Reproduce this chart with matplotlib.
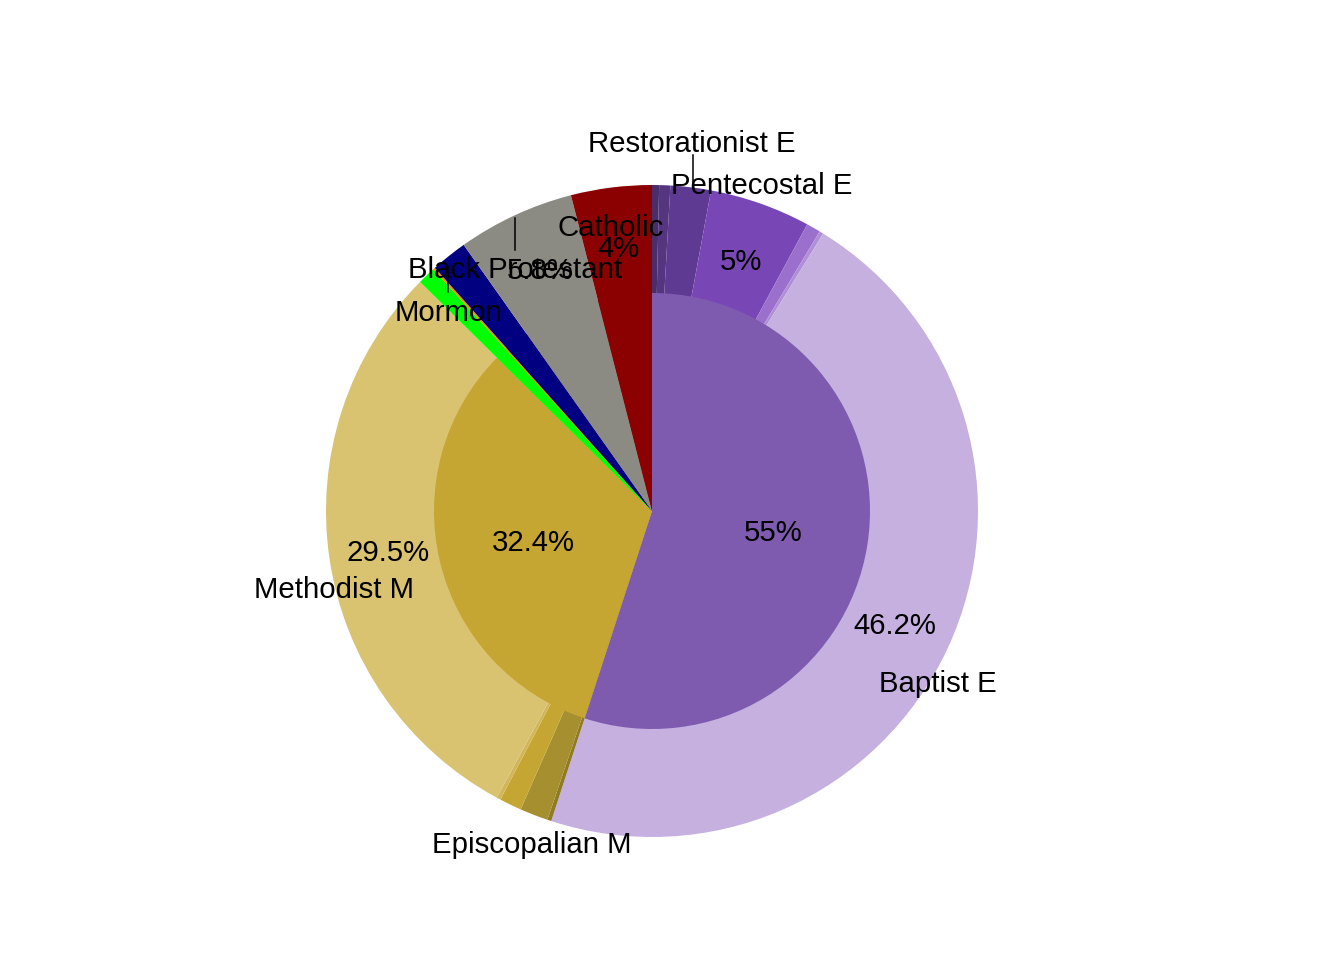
import numpy as np
import matplotlib
matplotlib.use("Agg")
import matplotlib.pyplot as plt

plt.rcParams['font.family'] = ['Liberation Sans', 'DejaVu Sans']

# ---------------- data ----------------
# top level (inner pie), clockwise from 12 o'clock
top_names = ["Evangelical", "Mainline", "Mormon", "Orthodox", "Other Christian",
             "Black Protestant", "Catholic"]
top_values = [55.0, 32.4, 0.9, 0.1, 1.8, 5.8, 4.0]
top_colors = ["#7E5BAF", "#C5A633", "#00FF00", "#FF8C00", "#000080", "#8B8B83", "#8B0000"]
top_has_subs = [True, True, False, False, False, False, False]

# sub level (outer ring) for Evangelical and Mainline
evan_sub_names = ["Holiness E", "Adventist E", "Restorationist E", "Pentecostal E",
                  "Nondenominational E", "Lutheran E", "Baptist E"]
evan_sub_values = [0.35, 0.55, 2.0, 5.0, 0.7, 0.2, 46.2]
evan_sub_colors = ["#482E6B", "#553580", "#5E3A93", "#7847B5", "#9A70CC", "#B08FD8", "#C5B0E0"]

main_sub_names = ["Lutheran M", "Episcopalian M", "Presbyterian M", "Congregationalist M",
                  "Methodist M"]
main_sub_values = [0.2, 1.4, 1.1, 0.2, 29.5]
main_sub_colors = ["#8F7A26", "#A68F2E", "#C5A632", "#D2B75A", "#D9C371"]

# which labels are shown
outer_pct_shown = ["Pentecostal E", "Baptist E", "Methodist M"]
top_pct_shown = ["Evangelical", "Mainline", "Black Protestant", "Catholic"]

# ---------------- layout ----------------
W, H, DPI = 1344, 960, 100
CX, CY, RPX = 652, 511, 326        # pie centre and outer radius in pixels
R_IN = 218 / 326                   # inner pie radius (relative)
FS = 21.2
TDY = -3 / RPX                     # small vertical text offset

fig = plt.figure(figsize=(W / DPI, H / DPI), dpi=DPI)
ax = fig.add_axes([0, 0, 1, 1])

# outer ring values: subs for groups that have them, full slice otherwise
outer_vals, outer_cols, outer_names = [], [], []
for n, v, c, hs in zip(top_names, top_values, top_colors, top_has_subs):
    if n == "Evangelical":
        outer_vals += evan_sub_values; outer_cols += evan_sub_colors; outer_names += evan_sub_names
    elif n == "Mainline":
        outer_vals += main_sub_values; outer_cols += main_sub_colors; outer_names += main_sub_names
    else:
        outer_vals.append(v); outer_cols.append(c); outer_names.append(n)

wp = dict(linewidth=0, antialiased=True)
ax.pie(outer_vals, colors=outer_cols, radius=1.0, startangle=90, counterclock=False,
       wedgeprops=wp, normalize=True)
ax.pie(top_values, colors=top_colors, radius=R_IN, startangle=90, counterclock=False,
       wedgeprops=wp, normalize=True)
ax.set_xlim(-CX / RPX, (W - CX) / RPX)
ax.set_ylim(-(H - CY) / RPX, CY / RPX)
ax.set_aspect('equal')
ax.axis('off')


def polar(ang, r):
    a = np.deg2rad(ang)
    return r * np.sin(a), r * np.cos(a) + TDY


def mid_angles(vals):
    tot = float(sum(vals))
    cum = np.cumsum([0] + list(vals))
    return {i: (cum[i] + cum[i + 1]) / 2 / tot * 360 for i in range(len(vals))}


def fmt(v):
    return ("%g" % v) + "%"


# percent labels of the inner pie / full slices
tm = mid_angles(top_values)
for i, n in enumerate(top_names):
    if n in top_pct_shown:
        r = 0.375 if top_has_subs[i] else 0.82
        x, y = polar(tm[i], r)
        ax.text(x, y, fmt(top_values[i]), ha='center', va='center', fontsize=FS, color='black')

# percent labels of the outer ring
om = mid_angles(outer_vals)
for i, n in enumerate(outer_names):
    if n in outer_pct_shown:
        x, y = polar(om[i], 0.82)
        ax.text(x, y, fmt(outer_vals[i]), ha='center', va='center', fontsize=FS, color='black')

# name labels (angle clockwise from top, radius)
name_pos = {
    "Restorationist E": (6.2, 1.141),
    "Pentecostal E": (18.5, 1.061),
    "Catholic": (351.8, 0.886),
    "Black Protestant": (330.7, 0.858),
    "Mormon": (314.6, 0.878),
    "Baptist E": (120.7, 1.021),
    "Methodist M": (256.6, 1.003),
    "Episcopalian M": (199.9, 1.080),
}
for n, (a, r) in name_pos.items():
    x, y = polar(a, r)
    ax.text(x, y, n, ha='center', va='center', fontsize=FS, color='black')

# leader lines (pixel positions -> data)
def px(x, y):
    return (x - CX) / RPX, (CY - y) / RPX

for (x0, y0, x1, y1) in [(693, 155, 693, 188), (515, 218, 515, 250), (448, 267, 448, 292)]:
    a = px(x0, y0); b = px(x1, y1)
    ax.plot([a[0], b[0]], [a[1], b[1]], color='black', lw=1.1)

fig.savefig("out.png", dpi=DPI)
